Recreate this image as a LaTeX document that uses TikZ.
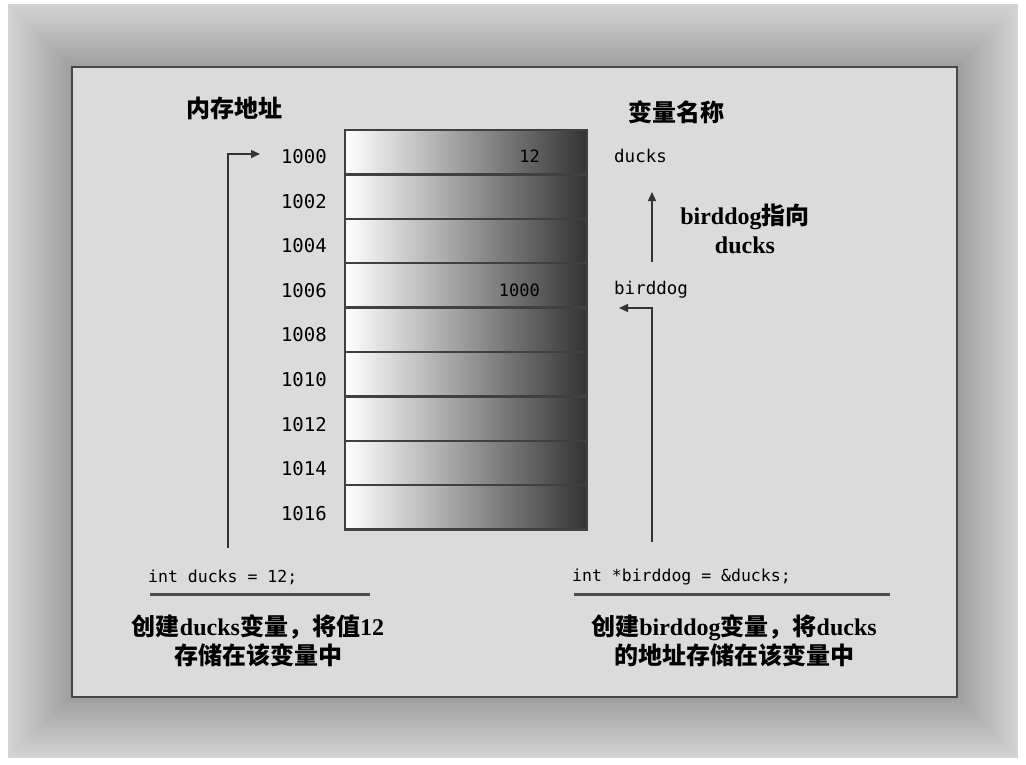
\documentclass[tikz,border=0pt]{standalone}
\usepackage{fontspec}
\newfontfamily\cjk{Noto Sans CJK SC}
\newfontfamily\monof{DejaVu Sans Mono}
\newfontfamily\serifb{Liberation Serif}
\newcommand\lat[1]{{\serifb\bfseries #1}}
\usetikzlibrary{arrows.meta}
\tikzset{
  cell/.style={minimum width=242, minimum height=44.4, inner sep=0,
    left color=white, middle color=black!30, right color=black!80,
    draw=black!75, line width=2.5},
  addr/.style={inner sep=0, anchor=east, font=\monof\fontsize{19}{19}\selectfont},
  val/.style={inner sep=0, anchor=east, font=\monof\fontsize{17}{17}\selectfont},
  vname/.style={inner sep=0, anchor=west, font=\monof\fontsize{17.5}{17.5}\selectfont},
  code/.style={inner sep=0, anchor=west, font=\monof\fontsize{16.5}{16.5}\selectfont},
  head/.style={inner sep=0, font=\cjk\bfseries\fontsize{24}{24}\selectfont},
  capt/.style={inner sep=0, align=center, font=\cjk\bfseries\fontsize{24}{29}\selectfont},
  conn/.style={draw=black!80, line width=1.5, -{Triangle[length=9,width=8]}},
  uline/.style={draw=black!70, line width=3},
}
\begin{document}
\begin{tikzpicture}[x=1pt,y=-1pt]
\useasboundingbox (0,0) rectangle (1026,764);
\fill[white] (0,0) rectangle (1026,764);
% bevelled frame
\foreach \i in {0,...,40}{
  \pgfmathsetmacro\t{\i/40}
  \pgfmathsetmacro\c{17+21*\t}
  \fill[black!\c] ({8+64*\t},{4+63*\t}) rectangle ({1018-61*\t},{758-61*\t});
}
\draw[draw=black!72, line width=2.5, fill=black!14] (72,67) rectangle (957,697);

% headers
\node[head] (h1) at (234,108) {内存地址};
\node[head] (h2) at (676,112) {变量名称};

% memory cells and addresses
\foreach \i/\a in {0/1000,1/1002,2/1004,3/1006,4/1008,5/1010,6/1012,7/1014,8/1016}{
  \node[cell] (c\i) at (466,{152.2+44.4*\i}) {};
  \node[addr] (a\a) at (327,{156.5+44.6*\i}) {\a};
}
\node[val] (v12) at (540,156) {12};
\node[val] (v1000) at (540,290) {1000};

% variable names
\node[vname] (nducks) at (614,156) {ducks};
\node[vname] (nbird) at (614,290) {birddog};

\node[capt] (pt) at (745,228.5) {\lat{birddog}指向\\\lat{ducks}};

% code lines
\node[code] (code1) at (148,577) {int ducks = 12;};
\node[code] (code2) at (572,577) {int *birddog = \&ducks;};
\draw[uline] (150,594) -- (370,594);
\draw[uline] (574,594) -- (890,594);

% captions
\node[capt] (cap1) at (258,640.5) {创建\lat{ducks}变量，将值\lat{12}\\存储在该变量中};
\node[capt] (cap2) at (734,640.5) {创建\lat{birddog}变量，将\lat{ducks}\\的地址存储在该变量中};

% connectors
\coordinate (s1) at (228,548);
\coordinate (t1) at (260,154);
\draw[conn] (s1) |- (t1);
\coordinate (s2) at (652,542);
\coordinate (t2) at (619,308);
\draw[conn] (s2) |- (t2);
\coordinate (u1) at (652,262);
\coordinate (u2) at (652,192);
\draw[conn] (u1) -- (u2);
\end{tikzpicture}
\end{document}
